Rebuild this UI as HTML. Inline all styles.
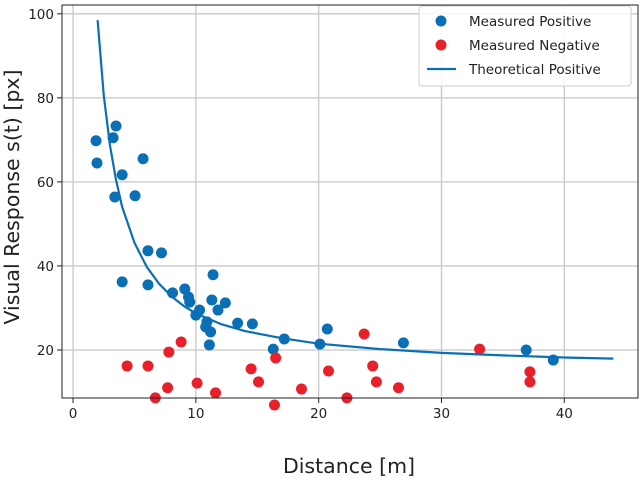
<!DOCTYPE html>
<html><head><meta charset="utf-8"><style>
body{margin:0;background:#fff;}
svg{display:block;font-family:"DejaVu Sans","Liberation Sans",sans-serif;}
</style></head><body>
<svg id="chart" width="640" height="479"></svg>
<script>
const bluePosX=[1.87,1.95,3.26,3.5,3.4,4.0,5.7,5.05,4.0,6.1,7.2,6.1,8.1,9.1,9.4,9.5,10.0,10.3,11.4,11.3,10.9,10.8,11.2,11.1,11.8,12.4,13.4,14.6,16.3,17.2,20.1,20.7,26.9,36.9,39.1];
const bluePosY=[69.8,64.5,70.5,73.3,56.4,61.7,65.5,56.7,36.2,43.6,43.1,35.5,33.6,34.5,32.6,31.4,28.3,29.5,37.9,31.9,26.7,25.5,24.3,21.2,29.5,31.2,26.4,26.2,20.2,22.6,21.4,25.0,21.7,20.0,17.6];
const redNegX=[4.4,6.1,6.7,7.7,7.8,8.8,10.1,11.6,14.5,15.1,16.4,16.5,18.6,20.8,22.3,23.7,24.4,24.7,26.5,33.1,37.2,37.2];
const redNegY=[16.2,16.2,8.6,11.0,19.5,21.9,12.1,9.8,15.5,12.4,6.9,18.1,10.7,15.0,8.6,23.8,16.2,12.4,11.0,20.2,14.8,12.4];
const theoX=[2,2.5,3,3.5,4,5,6,7,8,9,10,12,14,17,20,25,30,35,40,44];
const theoY=[98.5,80.5,68.8,60.5,54.0,45.5,39.8,35.8,32.8,30.5,28.7,26.2,24.5,22.8,21.5,20.2,19.3,18.7,18.2,17.95];
const xTicks=[0,10,20,30,40];
const yTicks=[20,40,60,80,100];

const L=62,T=5,R=638,B=398;
const x0=-0.9,x1=46.0,y0=8.57,y1=102.1;
const sx=v=>L+(v-x0)/(x1-x0)*(R-L);
const sy=v=>B-(v-y0)/(y1-y0)*(B-T);
const NS="http://www.w3.org/2000/svg";
const svg=document.getElementById('chart');
function mk(tag,attrs,parent){const e=document.createElementNS(NS,tag);for(const k in attrs)e.setAttribute(k,attrs[k]);(parent||svg).appendChild(e);return e;}

const grid=mk('g',{});


xTicks.forEach(t=>{
  const l=mk('line',{x1:sx(t),x2:sx(t),y1:T,y2:B,stroke:'#c8c8c8','stroke-width':1.3},grid);
  
  
  const tk=mk('line',{x1:sx(t),x2:sx(t),y1:B,y2:B+5,stroke:'#222','stroke-width':1});
  
  
  const tx=mk('text',{x:sx(t),y:B+20,'text-anchor':'middle','font-size':13.5,fill:'#222'});
  tx.textContent=t;
  
  
});
yTicks.forEach(t=>{
  const l=mk('line',{x1:L,x2:R,y1:sy(t),y2:sy(t),stroke:'#c8c8c8','stroke-width':1.3},grid);
  
  
  const tk=mk('line',{x1:L-5,x2:L,y1:sy(t),y2:sy(t),stroke:'#222','stroke-width':1});
  
  
  const tx=mk('text',{x:L-8,y:sy(t)+5,'text-anchor':'end','font-size':13.5,fill:'#222'});
  tx.textContent=t;
  
  
});

bluePosX.forEach((v,i)=>{
  const c=mk('circle',{cx:sx(v),cy:sy(bluePosY[i]),r:5.5,fill:'#0b6fb5'});
  
  
});
redNegX.forEach((v,i)=>{
  const c=mk('circle',{cx:sx(v),cy:sy(redNegY[i]),r:5.5,fill:'#e8202a'});
  
  
});
const path=mk('path',{d:theoX.map((v,i)=>(i?'L':'M')+sx(v).toFixed(1)+','+sy(theoY[i]).toFixed(1)).join(' '),fill:'none',stroke:'#0b6fb5','stroke-width':2.2,'stroke-linejoin':'round'});



const frame=mk('rect',{x:L,y:T,width:R-L,height:B-T,fill:'none',stroke:'#222','stroke-width':1});



const xt=mk('text',{x:(L+R)/2-1,y:473,'text-anchor':'middle','font-size':20.5,fill:'#222'});
xt.textContent='Distance [m]';


const yt=mk('text',{x:0,y:0,'text-anchor':'middle','font-size':20.5,fill:'#222',transform:'translate(19,197) rotate(-90)'});
yt.textContent='Visual Response s(t) [px]';



const lg=mk('g',{});


mk('rect',{x:419,y:6,width:212,height:80,rx:3,fill:'#fff','fill-opacity':0.85,stroke:'#ccc'},lg);
const entries=[['Measured Positive','#0b6fb5','dot'],['Measured Negative','#e8202a','dot'],['Theoretical Positive','#0b6fb5','line']];
entries.forEach((e,i)=>{
  const y=21+i*24;
  const g=mk('g',{},lg);
  
  
  if(e[2]==='dot') mk('circle',{cx:441,cy:y,r:5.5,fill:e[1]},g);
  else mk('line',{x1:427,x2:456,y1:y,y2:y,stroke:e[1],'stroke-width':2.2},g);
  const t=mk('text',{x:469,y:y+5,'font-size':13.5,fill:'#222'},g);
  t.textContent=e[0];
});
</script>
</body></html>
